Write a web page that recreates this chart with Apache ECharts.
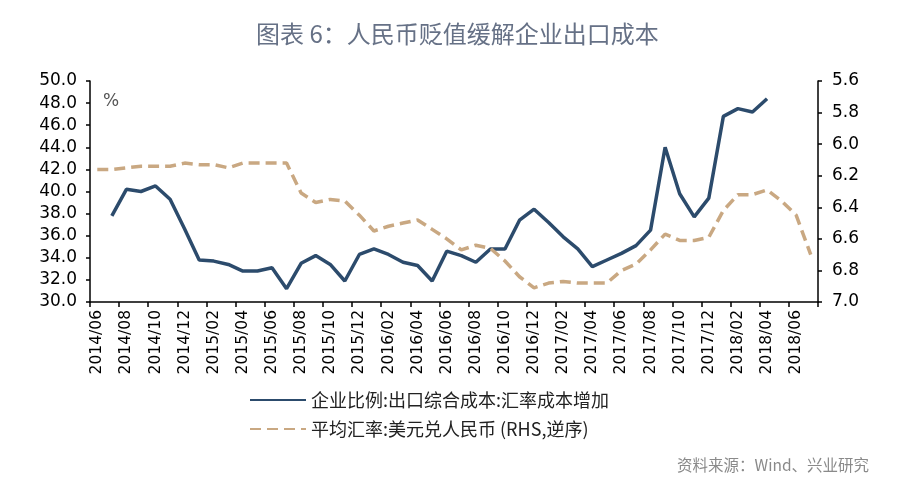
<!DOCTYPE html>
<html>
<head>
<meta charset="utf-8">
<script src="https://cdn.jsdelivr.net/npm/echarts@6/dist/echarts.min.js"></script>
<style>html,body{margin:0;padding:0;background:#fff;}#c{width:900px;height:493px;}</style>
</head>
<body>
<div id="c"></div>
<script>
var categories = ['2014/06','2014/07','2014/08','2014/09','2014/10','2014/11','2014/12',
'2015/01','2015/02','2015/03','2015/04','2015/05','2015/06','2015/07','2015/08','2015/09','2015/10','2015/11','2015/12',
'2016/01','2016/02','2016/03','2016/04','2016/05','2016/06','2016/07','2016/08','2016/09','2016/10','2016/11','2016/12',
'2017/01','2017/02','2017/03','2017/04','2017/05','2017/06','2017/07','2017/08','2017/09','2017/10','2017/11','2017/12',
'2018/01','2018/02','2018/03','2018/04','2018/05','2018/06','2018/07'];
var costShare = [null,37.8,40.2,40.0,40.5,39.3,36.6,
33.8,33.7,33.4,32.8,32.8,33.1,31.2,33.5,34.2,33.4,31.9,34.3,
34.8,34.3,33.6,33.3,31.9,34.6,34.2,33.6,34.8,34.8,37.4,38.4,
37.2,35.9,34.8,33.2,33.8,34.4,35.1,36.5,44.0,39.8,37.7,39.4,
46.8,47.5,47.2,48.4,null,null,null];
var usdCny = [6.16,6.16,6.15,6.14,6.14,6.14,6.12,
6.13,6.13,6.15,6.12,6.12,6.12,6.12,6.31,6.37,6.35,6.36,6.45,
6.55,6.52,6.50,6.48,6.54,6.60,6.67,6.64,6.66,6.74,6.84,6.91,
6.88,6.87,6.88,6.88,6.88,6.80,6.76,6.67,6.57,6.61,6.61,6.59,
6.42,6.32,6.32,6.29,6.36,6.45,6.70];
var seriesNames = ['企业比例:出口综合成本:汇率成本增加', '平均汇率:美元兑人民币 (RHS,逆序)'];
var titleText = '图表 6：人民币贬值缓解企业出口成本';
var sourceText = '资料来源：Wind、兴业研究';

var chart = echarts.init(document.getElementById('c'));
var axisCommon = {
  axisLine: {show: true, lineStyle: {color: '#000', width: 1.5}},
  axisTick: {show: true, length: 4, lineStyle: {color: '#000', width: 1.5}},
  splitLine: {show: false}
};
chart.setOption({
  animation: false,
  backgroundColor: '#fff',
  grid: {left: 90, right: 82, top: 81, bottom: 191, containLabel: false},
  graphic: [
    {type: 'text', left: 256, top: 22, style: {text: titleText, fill: '#667186', fontSize: 24, fontFamily: 'Noto Sans CJK SC'}},
    {type: 'text', left: 103, top: 93, style: {text: '%', fill: '#555', fontSize: 17, fontFamily: 'DejaVu Sans'}},
    {type: 'text', right: 31, top: 457, style: {text: sourceText, fill: '#8a8a8a', fontSize: 15.5, fontFamily: 'Noto Sans CJK SC'}}
  ],
  legend: {
    orient: 'vertical', left: 244, top: 386, itemWidth: 56, itemHeight: 14, itemGap: 11,
    itemStyle: {opacity: 0},
    textStyle: {fontSize: 18, color: '#222', fontFamily: 'Noto Sans CJK SC'},
    data: seriesNames
  },
  xAxis: Object.assign({}, axisCommon, {
    type: 'category', data: categories, boundaryGap: true,
    axisTick: {show: true, length: 5, interval: 1, lineStyle: {color: '#000', width: 1.5}},
    axisLabel: {interval: 1, rotate: 90, margin: 8, color: '#000', fontSize: 15.5, fontFamily: 'DejaVu Sans'}
  }),
  yAxis: [
    Object.assign({}, axisCommon, {
      type: 'value', min: 30, max: 50, interval: 2, position: 'left',
      axisLabel: {margin: 13, color: '#000', fontSize: 17, fontFamily: 'DejaVu Sans', formatter: function(v){return v.toFixed(1);}}
    }),
    Object.assign({}, axisCommon, {
      type: 'value', min: 5.6, max: 7.0, interval: 0.2, inverse: true, position: 'right',
      axisLabel: {margin: 14, color: '#000', fontSize: 17, fontFamily: 'DejaVu Sans', formatter: function(v){return v.toFixed(1);}}
    })
  ],
  series: [
    {name: seriesNames[0], type: 'line', yAxisIndex: 0, data: costShare, symbol: 'none', connectNulls: false,
      lineStyle: {color: '#2c4b6c', width: 3.5}, itemStyle: {color: '#2c4b6c'}},
    {name: seriesNames[1], type: 'line', yAxisIndex: 1, data: usdCny, symbol: 'none',
      lineStyle: {color: '#c9a882', width: 3.5, type: [11, 6]}, itemStyle: {color: '#c9a882'}}
  ]
});
</script>
</body>
</html>
